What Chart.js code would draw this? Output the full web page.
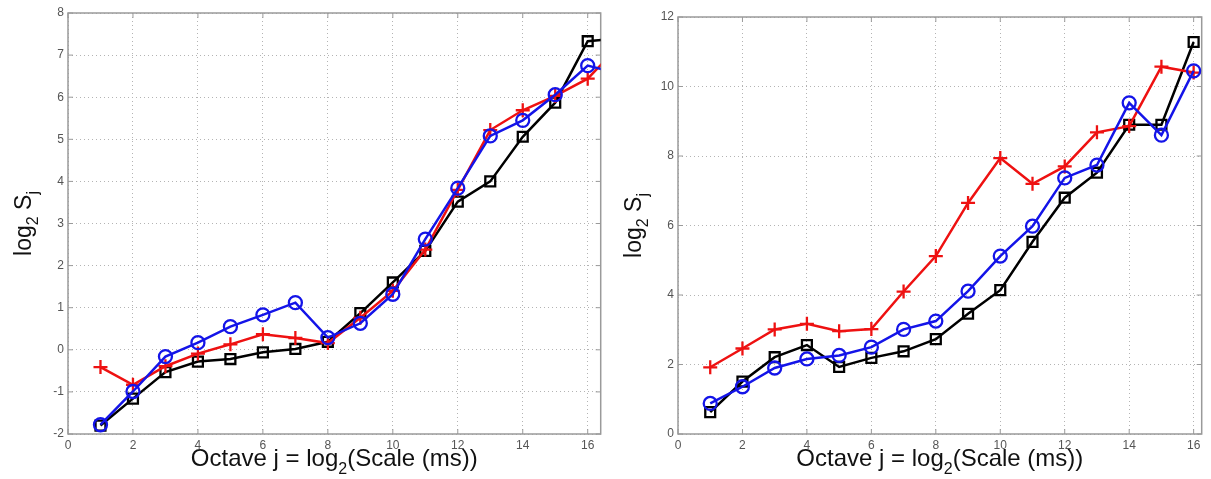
<!DOCTYPE html>
<html>
<head>
<meta charset="utf-8">
<script src="https://cdn.jsdelivr.net/npm/chart.js@4.4.1/dist/chart.umd.min.js"></script>
<style>
  body { margin: 0; background: #fff; }
  .panel { position: absolute; top: 0; height: 479px; }
  #left { left: 0; width: 610px; }
  #right { left: 610px; width: 601px; }
</style>
</head>
<body>
<div class="panel" id="left"><canvas id="leftChart"></canvas></div>
<div class="panel" id="right"><canvas id="rightChart"></canvas></div>
<script>
// octave j (left panel runs one point past the clipped edge)
const octavesLeft = [1, 2, 3, 4, 5, 6, 7, 8, 9, 10, 11, 12, 13, 14, 15, 16, 17];
const octavesRight = [1, 2, 3, 4, 5, 6, 7, 8, 9, 10, 11, 12, 13, 14, 15, 16];

// left panel, log2 Sj
const leftSquare = [-1.8, -1.16, -0.53, -0.28, -0.22, -0.06, 0.02, 0.19, 0.87, 1.6, 2.35, 3.52, 4.0, 5.06, 5.87, 7.33, 7.4];
const leftPlus   = [-0.41, -0.83, -0.39, -0.09, 0.13, 0.37, 0.28, 0.16, 0.76, 1.4, 2.38, 3.8, 5.22, 5.69, 6.03, 6.44, 7.25];
const leftCircle = [-1.78, -0.99, -0.16, 0.17, 0.55, 0.83, 1.12, 0.29, 0.63, 1.32, 2.63, 3.84, 5.08, 5.45, 6.06, 6.75, 6.55];

// right panel, log2 Sj
const rightSquare = [0.63, 1.51, 2.21, 2.56, 1.93, 2.19, 2.38, 2.73, 3.46, 4.14, 5.53, 6.8, 7.52, 8.9, 8.9, 11.28];
const rightPlus   = [1.92, 2.46, 3.01, 3.17, 2.96, 3.02, 4.1, 5.12, 6.65, 7.94, 7.2, 7.7, 8.68, 8.86, 10.57, 10.4];
const rightCircle = [0.88, 1.36, 1.9, 2.16, 2.26, 2.5, 3.01, 3.25, 4.11, 5.12, 5.98, 7.37, 7.74, 9.53, 8.6, 10.45];

// tick labels
const xTickVals = [0, 2, 4, 6, 8, 10, 12, 14, 16];
const leftYTicks = [-2, -1, 0, 1, 2, 3, 4, 5, 6, 7, 8];
const rightYTicks = [0, 2, 4, 6, 8, 10, 12];

const FONT = '"Liberation Sans", Arial, sans-serif';

function pts(xs, ys) {
  return ys.map((y, i) => ({ x: xs[i], y: y }));
}

// draws text pieces, some as subscripts, centred on x with baseline y
function drawRich(ctx, parts, x, y, size) {
  const main = size + 'px ' + FONT, sub = Math.round(size * 0.68) + 'px ' + FONT;
  let total = 0;
  parts.forEach(p => { ctx.font = p[1] ? sub : main; total += ctx.measureText(p[0]).width; });
  let cx = x - total / 2;
  ctx.textAlign = 'left';
  ctx.textBaseline = 'alphabetic';
  ctx.fillStyle = '#111';
  parts.forEach(p => {
    ctx.font = p[1] ? sub : main;
    ctx.fillText(p[0], cx, y + (p[1] ? size * 0.32 : 0));
    cx += ctx.measureText(p[0]).width;
  });
}

const matlabAxes = {
  id: 'matlabAxes',
  beforeDatasetsDraw(chart) {
    const { ctx, chartArea: a, scales } = chart;
    ctx.save();
    ctx.strokeStyle = '#9a9a9a';
    ctx.lineWidth = 1.5;
    ctx.strokeRect(a.left, a.top, a.right - a.left, a.bottom - a.top);
    // small inner tick marks like matlab
    ctx.lineWidth = 1;
    scales.x.ticks.forEach(t => {
      const px = scales.x.getPixelForValue(t.value);
      ctx.beginPath();
      ctx.moveTo(px, a.bottom); ctx.lineTo(px, a.bottom - 5);
      ctx.moveTo(px, a.top); ctx.lineTo(px, a.top + 5);
      ctx.stroke();
    });
    scales.y.ticks.forEach(t => {
      const py = scales.y.getPixelForValue(t.value);
      ctx.beginPath();
      ctx.moveTo(a.left, py); ctx.lineTo(a.left + 5, py);
      ctx.moveTo(a.right, py); ctx.lineTo(a.right - 5, py);
      ctx.stroke();
    });
    ctx.restore();
  },
  afterDraw(chart) {
    const { ctx, chartArea: a } = chart;
    ctx.save();
    drawRich(ctx, [['Octave j = log', false], ['2', true], ['(Scale (ms))', false]], (a.left + a.right) / 2, 466, 24);
    ctx.translate(31, (a.top + a.bottom) / 2);
    ctx.rotate(-Math.PI / 2);
    drawRich(ctx, [['log', false], ['2', true], [' S', false], ['j', true]], 0, 0, 23);
    ctx.restore();
  }
};

function series(data, color, style, radius) {
  return {
    data: data,
    showLine: true,
    borderColor: color,
    borderWidth: 2.5,
    pointStyle: style,
    pointRadius: radius,
    pointBorderWidth: 2.3,
    pointBorderColor: color,
    pointBackgroundColor: 'rgba(255,255,255,0)',
    tension: 0,
    clip: { left: 10, top: 10, right: 0, bottom: 10 }
  };
}

function makeChart(id, xs, sq, pl, ci, yTicks, xMax, padTop, padRight) {
  const ds = [
    Object.assign(series(pts(xs, ci), '#1414e8', 'circle', 6.5), { order: 0 }),
    Object.assign(series(pts(xs, pl), '#ee1111', 'cross', 7), { order: 1 }),
    Object.assign(series(pts(xs, sq), '#000000', 'rect', 7), { order: 2 })
  ];
  new Chart(id, {
    type: 'scatter',
    data: { datasets: ds },
    options: {
      responsive: true,
      maintainAspectRatio: false,
      animation: false,
      layout: { padding: { left: 0, right: padRight, top: padTop, bottom: 0 } },
      plugins: { legend: { display: false }, tooltip: { enabled: false } },
      scales: {
        x: {
          type: 'linear',
          min: 0,
          max: xMax,
          afterBuildTicks: s => { s.ticks = xTickVals.map(v => ({ value: v })); },
          afterFit: s => { s.height = 45; },
          grid: { color: '#b4b4b4', drawTicks: false },
          border: { display: false, dash: [1, 3] },
          ticks: { padding: 4, color: '#555', font: { family: FONT, size: 12 } }
        },
        y: {
          type: 'linear',
          min: yTicks[0],
          max: yTicks[yTicks.length - 1],
          afterBuildTicks: s => { s.ticks = yTicks.map(v => ({ value: v })); },
          afterFit: s => { s.width = 68; },
          grid: { color: '#b4b4b4', drawTicks: false },
          border: { display: false, dash: [1, 3] },
          ticks: { padding: 4, color: '#555', font: { family: FONT, size: 12 } }
        }
      }
    },
    plugins: [matlabAxes]
  });
}

makeChart('leftChart', octavesLeft, leftSquare, leftPlus, leftCircle, leftYTicks, 16.4, 13, 6);
makeChart('rightChart', octavesRight, rightSquare, rightPlus, rightCircle, rightYTicks, 16.25, 17, 6);
</script>
</body>
</html>
